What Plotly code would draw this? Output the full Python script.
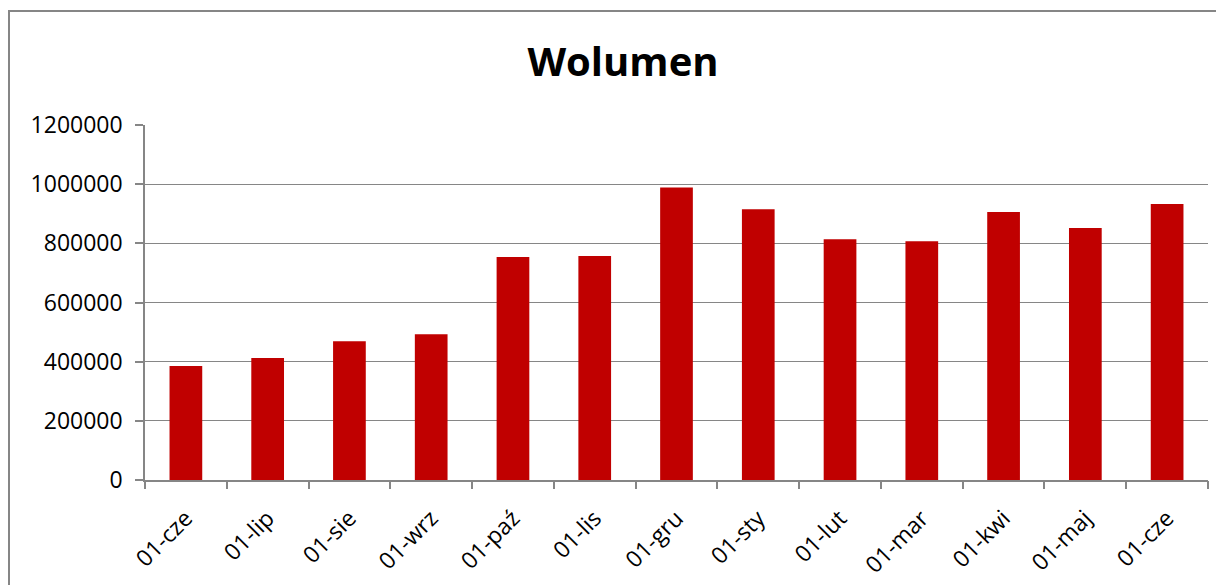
import plotly.graph_objects as go

labels = ["01-cze", "01-lip", "01-sie", "01-wrz", "01-paź", "01-lis", "01-gru",
          "01-sty", "01-lut", "01-mar", "01-kwi", "01-maj", "01-cze"]
values = [385000, 412000, 469000, 493000, 754000, 757000, 989000,
          915000, 814000, 807000, 906000, 852000, 933000]
y_ticks = [0, 200000, 400000, 600000, 800000, 1000000, 1200000]

positions = list(range(len(labels)))
boundaries = [i - 0.5 for i in range(len(labels) + 1)]

# page has an 8px body margin, so the figure is laid out 8px smaller
W, H = 1216, 577
L, R, T, B = 137, 16, 117, 105
pw, ph = W - L - R, H - T - B

fig = go.Figure()
fig.add_trace(go.Bar(x=positions, y=values, marker=dict(color="#C00000", line=dict(width=0)),
                     width=0.4, showlegend=False))
fig.add_trace(go.Scatter(x=[], y=[], xaxis="x2", showlegend=False))

font = "Open Sans"
fig.update_layout(
    width=W, height=H,
    margin=dict(l=L, r=R, t=T, b=B),
    plot_bgcolor="white", paper_bgcolor="white",
    font=dict(family=font, size=23, color="black"),
    title=dict(text="<b>Wolumen</b>", x=615 / W, xanchor="center", xref="container",
               y=1 - 54 / H, yanchor="middle", font=dict(size=40, family=font)),
    xaxis=dict(range=[-0.5, len(labels) - 0.5], tickvals=positions, ticktext=labels,
               tickangle=-45, ticks="", showgrid=False, zeroline=False, automargin=False,
               showline=True, linecolor="#868686", linewidth=1.5, ticklabelstandoff=14),
    xaxis2=dict(range=[-0.5, len(labels) - 0.5], overlaying="x", anchor="y", side="bottom",
                tickvals=boundaries, showticklabels=False, ticks="outside", ticklen=8,
                automargin=False,
                tickcolor="#868686", tickwidth=1.5, showgrid=False, zeroline=False, showline=False),
    yaxis=dict(range=[0, 1200000], tickvals=y_ticks, ticktext=[str(v) for v in y_ticks],
               ticks="outside", ticklen=8, tickcolor="#868686", tickwidth=1.5, automargin=False,
               showgrid=True, gridcolor="#868686", gridwidth=1.3, zeroline=False,
               showline=True, linecolor="#868686", linewidth=1.5, ticklabelstandoff=8),
    shapes=[dict(type="rect", xref="paper", yref="paper",
                 x0=(1 - L) / pw, x1=(W + 20 - L) / pw,
                 y0=-(H + 20 - T - ph) / ph, y1=1 + (T - 3) / ph,
                 line=dict(color="#868686", width=2), layer="below")],
)
fig.write_html("out.html")
